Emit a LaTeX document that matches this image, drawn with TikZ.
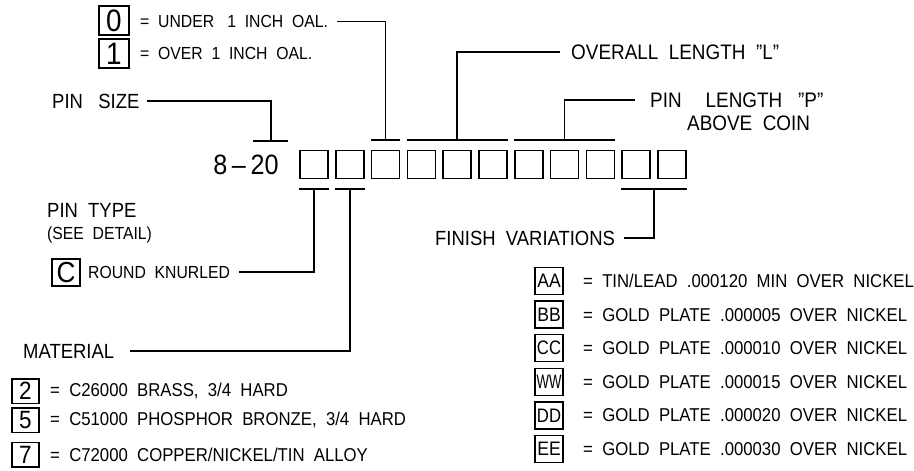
\documentclass[tikz,border=0pt]{standalone}
\usepackage{fontspec}
\setmainfont{Liberation Sans}[FakeStretch=0.9]
\usetikzlibrary{calc}
\newcommand{\fsz}[1]{\fontsize{#1}{#1}\selectfont}
\tikzset{
  ln/.style={line width=1.6pt},
  cell/.style={draw, line width=1.7pt, minimum width=28pt, minimum height=28pt, inner sep=0pt},
  lbl/.style={inner sep=0pt, font=\fsz{20.5}},
  big/.style={inner sep=0pt, font=\fsz{21}},
  txt/.style={inner sep=0pt, font=\fsz{17.5}},
  fin/.style={inner sep=0pt, font=\fsz{18.6}},
  key/.style={draw, line width=1.5pt, inner sep=0pt},
  topkey/.style={key, minimum width=30pt, minimum height=29pt, font=\fsz{31}},
  matkey/.style={key, minimum width=27pt, minimum height=24.5pt, font=\fsz{25}},
  finkey/.style={key, minimum width=28pt, minimum height=27pt, font=\fsz{19.5}},
}
\begin{document}
\begin{tikzpicture}[x=1pt,y=-1pt]
\useasboundingbox (0,0) rectangle (914,471);
% part number row
\node[inner sep=0pt, font=\fsz{28}] (code) at (246,164.5) {8\,--\,20};
\foreach \i in {0,...,10} \node[cell] (b\i) at ({314+35.8*\i},164.5) {};

% labels
\node[lbl, anchor=west] (ps) at (52,101) {PIN~~~SIZE};
\node[topkey] (k0) at (114,20.5) {0};
\node[txt, anchor=west] (oal0) at (140,21.5) {=~~UNDER~~~1~~INCH~~OAL.};
\node[topkey] (k1) at (114,53.5) {1};
\node[txt, anchor=west] (oal1) at (140,53.5) {=~~OVER~~1~~INCH~~OAL.};
\node[big, anchor=west] (ol) at (571,52) {OVERALL~~LENGTH~~"L"};
\node[big, anchor=west] (pl) at (650,100) {PIN\hspace{24pt}LENGTH~~~"P"};
\node[big, anchor=west] (pl2) at (687,123.5) {ABOVE~~COIN};
\node[lbl, anchor=west] (pt) at (47,210) {PIN~~TYPE};
\node[txt, anchor=west] (sd) at (47,235) {(SEE~~DETAIL)};
\node[key, minimum width=28pt, minimum height=27pt, font=\fsz{29}] (kc) at (66,272.5) {C};
\node[txt, anchor=west] (rk) at (88,272) {ROUND~~KNURLED};
\node[lbl, anchor=west] (fv) at (435,238) {FINISH~~VARIATIONS};
\node[lbl, anchor=west] (mat) at (23,351) {MATERIAL};

% material list
\node[matkey] (m2) at (25.5,391) {2};
\node[fin, anchor=west] (t2) at (50,391) {=~~C26000~~BRASS,~~3/4~~HARD};
\node[matkey] (m5) at (25.5,420) {5};
\node[fin, anchor=west] (t5) at (50,420) {=~~C51000~~PHOSPHOR~~BRONZE,~~3/4~~HARD};
\node[matkey] (m7) at (25.5,454.5) {7};
\node[fin, anchor=west] (t7) at (50,454.5) {=~~C72000~~COPPER/NICKEL/TIN~~ALLOY};

% finish list
\node[finkey] (fa) at (549,281) {AA};
\node[fin, anchor=west] (ta) at (583,281) {=~~TIN/LEAD~~.000120~~MIN~~OVER~~NICKEL};
\node[finkey] (fbb) at (549,314.6) {BB};
\node[fin, anchor=west] (tb) at (583,314.6) {=~~GOLD~~PLATE~~.000005~~OVER~~NICKEL};
\node[finkey] (fc) at (549,348.2) {\scalebox{0.95}[1]{CC}};
\node[fin, anchor=west] (tc) at (583,348.2) {=~~GOLD~~PLATE~~.000010~~OVER~~NICKEL};
\node[finkey] (fw) at (549,381.8) {\scalebox{0.75}[1]{WW}};
\node[fin, anchor=west] (tw) at (583,381.8) {=~~GOLD~~PLATE~~.000015~~OVER~~NICKEL};
\node[finkey] (fd) at (549,415.4) {\scalebox{0.95}[1]{DD}};
\node[fin, anchor=west] (td) at (583,415.4) {=~~GOLD~~PLATE~~.000020~~OVER~~NICKEL};
\node[finkey] (fe) at (549,449) {EE};
\node[fin, anchor=west] (te) at (583,449) {=~~GOLD~~PLATE~~.000030~~OVER~~NICKEL};

% ticks and connectors
\coordinate (pa) at (253,141); \coordinate (pb) at (288,141); \coordinate (pm) at (271,141);
\draw[ln] (pa) -- (pb);
\draw[ln] (pm) |- ([xshift=7pt]ps.east);

\coordinate (oa) at ([yshift=9.5pt]b2.north west);
\coordinate (ob) at ([yshift=9.5pt]b2.north east);
\coordinate (om) at ([yshift=9.5pt]b2.north);
\draw[ln] (oa) -- (ob);
\draw[ln] (om) |- ([xshift=9pt]oal0.east);

\coordinate (la) at ([yshift=9.5pt]b3.north west);
\coordinate (lb) at ([yshift=9.5pt]b5.north east);
\coordinate (lm) at ([yshift=9.5pt]b4.north);
\draw[ln] (la) -- (lb);
\draw[ln] (lm) |- ([xshift=-11pt]ol.west);

\coordinate (ka) at ([yshift=9.5pt]b6.north west);
\coordinate (kb) at ([yshift=9.5pt]b8.north east);
\coordinate (km) at ([yshift=9.5pt]b7.north);
\draw[ln] (ka) -- (kb);
\draw[ln] (km) |- ([xshift=-15pt]pl.west);

\coordinate (ca) at ([yshift=-9.5pt]b0.south west);
\coordinate (cb) at ([yshift=-9.5pt]b0.south east);
\coordinate (cm) at ([yshift=-9.5pt]b0.south);
\draw[ln] (ca) -- (cb);
\draw[ln] (cm) |- ([xshift=9pt]rk.east);

\coordinate (ma) at ([yshift=-9.5pt]b1.south west);
\coordinate (mb) at ([yshift=-9.5pt]b1.south east);
\coordinate (mm) at ([yshift=-9.5pt]b1.south);
\draw[ln] (ma) -- (mb);
\draw[ln] (mm) |- ([xshift=16pt]mat.east);

\coordinate (va) at ([yshift=-9.5pt]b9.south west);
\coordinate (vb) at ([yshift=-9.5pt]b10.south east);
\coordinate (vm) at ($(va)!0.5!(vb)$);
\draw[ln] (va) -- (vb);
\draw[ln] (vm) |- ([xshift=9pt]fv.east);
\end{tikzpicture}
\end{document}
